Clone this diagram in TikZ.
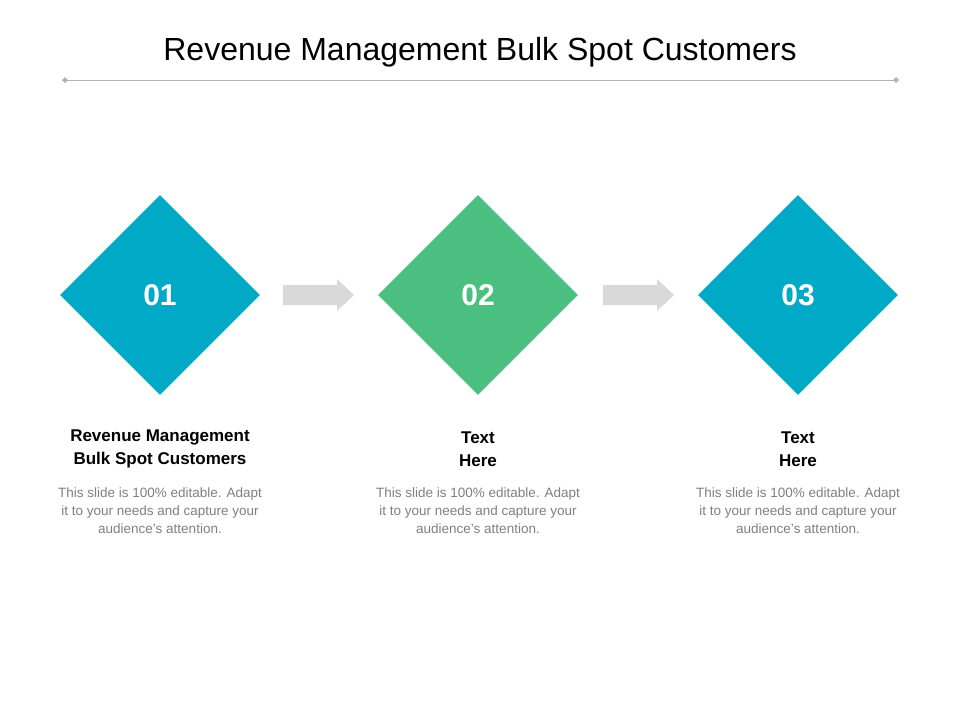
\documentclass[tikz,border=0pt]{standalone}
\usepackage{fontspec}
\setmainfont{Liberation Sans}
\usetikzlibrary{shapes.geometric}
\definecolor{teal}{HTML}{00A9C5}
\definecolor{grn}{HTML}{4BBF80}
\definecolor{arr}{HTML}{D9D9D9}
\definecolor{desc}{HTML}{7F7F7F}
\begin{document}
\begin{tikzpicture}[x=1pt,y=-1pt,
  dia/.style={diamond,minimum width=200pt,minimum height=200pt,inner sep=0pt,text=white,font=\bfseries\fontsize{30}{30}\selectfont},
  head/.style={align=center,font=\bfseries\fontsize{17}{23}\selectfont},
  body/.style={align=center,text=desc,font=\fontsize{13.5}{18}\selectfont},
  garrow/.style={fill=arr}]
\useasboundingbox (0,0) rectangle (960,720);
\node (title) at (480,52) {\fontsize{32}{36}\selectfont Revenue Management Bulk Spot Customers};
\coordinate (l1) at (65,80); \coordinate (l2) at (896,80);
\draw[gray!60,line width=0.8pt] (l1) -- (l2);
\fill[gray!60] (l1) ++(-3,0) -- ++(3,-3) -- ++(3,3) -- ++(-3,3) -- cycle;
\fill[gray!60] (l2) ++(-3,0) -- ++(3,-3) -- ++(3,3) -- ++(-3,3) -- cycle;
\node[dia,fill=teal] (d1) at (160,295) {01};
\node[dia,fill=grn] (d2) at (478,295) {02};
\node[dia,fill=teal] (d3) at (798,295) {03};
\foreach \x in {283,603}{
  \fill[arr] (\x,285) -- (\x+54,285) -- (\x+54,279) -- (\x+71,295) -- (\x+54,311) -- (\x+54,305) -- (\x,305) -- cycle;}
\node[head] (h1) at (160,449) {Revenue Management\\Bulk Spot Customers};
\node[head] (h2) at (478,449) {Text\\Here};
\node[head] (h3) at (798,449) {Text\\Here};
\foreach \x/\n in {160/b1,478/b2,798/b3}
  \node[body] (\n) at (\x,511) {This slide is 100\% editable. Adapt\\it to your needs and capture your\\audience's attention.};
\end{tikzpicture}
\end{document}
